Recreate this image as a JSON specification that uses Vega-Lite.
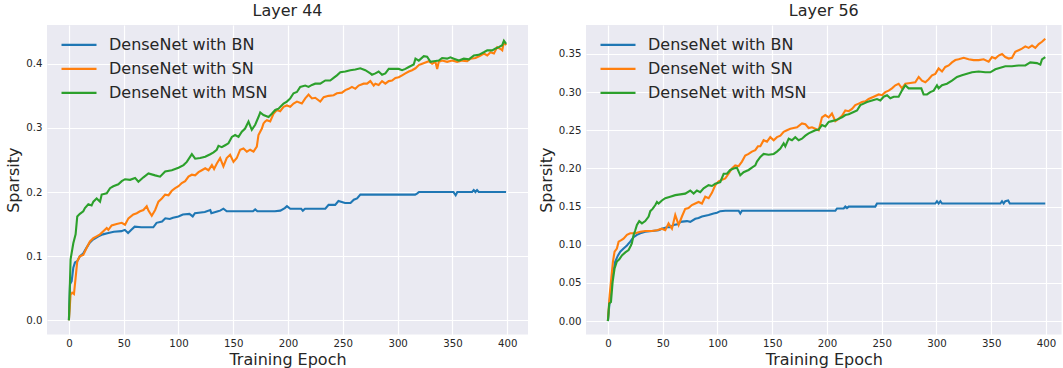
{
"$schema": "https://vega.github.io/schema/vega-lite/v6.json",
"background": "#FFFFFF",
"padding": {"left": 5, "top": 3, "right": 0, "bottom": 0},
"spacing": 10,
"config": {
 "font": "DejaVu Sans",
 "view": {"fill": "#EAEAF2", "stroke": null},
 "axis": {"domain": false, "ticks": false, "grid": true, "gridColor": "#FFFFFF", "gridWidth": 1.2, "labelFontSize": 10.2, "labelColor": "#262626", "titleFontSize": 16, "titleColor": "#262626", "titleFontWeight": "normal", "labelPadding": 5, "titlePadding": 4},
 "axisX": {"titlePadding": 2.5, "labelPadding": 4.5},
 "title": {"fontSize": 16, "fontWeight": "normal", "color": "#262626", "offset": 6},
 "legend": {"orient": "none", "legendX": 13, "legendY": 9, "padding": 0, "symbolType": "stroke", "symbolSize": 1225, "symbolStrokeWidth": 2.2, "labelFontSize": 16, "labelColor": "#262626", "labelOffset": 11, "clipHeight": 21.7, "rowPadding": 2, "labelLimit": 400, "title": null}
},
"resolve": {"legend": {"color": "independent"}, "scale": {"color": "independent", "x": "independent", "y": "independent"}},
"datasets": {
"l44": [
{"model":"DenseNet with BN","epoch":0,"sparsity":0},{"model":"DenseNet with BN","epoch":1,"sparsity":0.056},{"model":"DenseNet with BN","epoch":2.5,"sparsity":0.061},{"model":"DenseNet with BN","epoch":4,"sparsity":0.082},{"model":"DenseNet with BN","epoch":5.5,"sparsity":0.09},{"model":"DenseNet with BN","epoch":7.6,"sparsity":0.092},{"model":"DenseNet with BN","epoch":10,"sparsity":0.1},{"model":"DenseNet with BN","epoch":13,"sparsity":0.104},{"model":"DenseNet with BN","epoch":16,"sparsity":0.113},{"model":"DenseNet with BN","epoch":19,"sparsity":0.121},{"model":"DenseNet with BN","epoch":22,"sparsity":0.126},{"model":"DenseNet with BN","epoch":27,"sparsity":0.131},{"model":"DenseNet with BN","epoch":31,"sparsity":0.134},{"model":"DenseNet with BN","epoch":36,"sparsity":0.136},{"model":"DenseNet with BN","epoch":41,"sparsity":0.138},{"model":"DenseNet with BN","epoch":48,"sparsity":0.139},{"model":"DenseNet with BN","epoch":51,"sparsity":0.141},{"model":"DenseNet with BN","epoch":54,"sparsity":0.136},{"model":"DenseNet with BN","epoch":57,"sparsity":0.141},{"model":"DenseNet with BN","epoch":60,"sparsity":0.146},{"model":"DenseNet with BN","epoch":66,"sparsity":0.145},{"model":"DenseNet with BN","epoch":77,"sparsity":0.145},{"model":"DenseNet with BN","epoch":80,"sparsity":0.152},{"model":"DenseNet with BN","epoch":85,"sparsity":0.154},{"model":"DenseNet with BN","epoch":88,"sparsity":0.159},{"model":"DenseNet with BN","epoch":92,"sparsity":0.158},{"model":"DenseNet with BN","epoch":95,"sparsity":0.16},{"model":"DenseNet with BN","epoch":100,"sparsity":0.162},{"model":"DenseNet with BN","epoch":104,"sparsity":0.165},{"model":"DenseNet with BN","epoch":110,"sparsity":0.166},{"model":"DenseNet with BN","epoch":113,"sparsity":0.162},{"model":"DenseNet with BN","epoch":115,"sparsity":0.167},{"model":"DenseNet with BN","epoch":124,"sparsity":0.169},{"model":"DenseNet with BN","epoch":129,"sparsity":0.172},{"model":"DenseNet with BN","epoch":130,"sparsity":0.167},{"model":"DenseNet with BN","epoch":136,"sparsity":0.17},{"model":"DenseNet with BN","epoch":138,"sparsity":0.171},{"model":"DenseNet with BN","epoch":141,"sparsity":0.174},{"model":"DenseNet with BN","epoch":144,"sparsity":0.17},{"model":"DenseNet with BN","epoch":168,"sparsity":0.17},{"model":"DenseNet with BN","epoch":170,"sparsity":0.173},{"model":"DenseNet with BN","epoch":172,"sparsity":0.17},{"model":"DenseNet with BN","epoch":188,"sparsity":0.17},{"model":"DenseNet with BN","epoch":193,"sparsity":0.171},{"model":"DenseNet with BN","epoch":197,"sparsity":0.175},{"model":"DenseNet with BN","epoch":199,"sparsity":0.178},{"model":"DenseNet with BN","epoch":202,"sparsity":0.174},{"model":"DenseNet with BN","epoch":212,"sparsity":0.174},{"model":"DenseNet with BN","epoch":213.5,"sparsity":0.171},{"model":"DenseNet with BN","epoch":215.5,"sparsity":0.174},{"model":"DenseNet with BN","epoch":234,"sparsity":0.174},{"model":"DenseNet with BN","epoch":237,"sparsity":0.18},{"model":"DenseNet with BN","epoch":243,"sparsity":0.18},{"model":"DenseNet with BN","epoch":246,"sparsity":0.186},{"model":"DenseNet with BN","epoch":252,"sparsity":0.183},{"model":"DenseNet with BN","epoch":257,"sparsity":0.183},{"model":"DenseNet with BN","epoch":260,"sparsity":0.188},{"model":"DenseNet with BN","epoch":263,"sparsity":0.19},{"model":"DenseNet with BN","epoch":266,"sparsity":0.196},{"model":"DenseNet with BN","epoch":316,"sparsity":0.196},{"model":"DenseNet with BN","epoch":318,"sparsity":0.198},{"model":"DenseNet with BN","epoch":319.5,"sparsity":0.2},{"model":"DenseNet with BN","epoch":351,"sparsity":0.2},{"model":"DenseNet with BN","epoch":353,"sparsity":0.195},{"model":"DenseNet with BN","epoch":354.5,"sparsity":0.2},{"model":"DenseNet with BN","epoch":368,"sparsity":0.2},{"model":"DenseNet with BN","epoch":369.5,"sparsity":0.203},{"model":"DenseNet with BN","epoch":371,"sparsity":0.2},{"model":"DenseNet with BN","epoch":372.5,"sparsity":0.203},{"model":"DenseNet with BN","epoch":374,"sparsity":0.2},{"model":"DenseNet with BN","epoch":399,"sparsity":0.2},
{"model":"DenseNet with SN","epoch":0,"sparsity":0},{"model":"DenseNet with SN","epoch":1.5,"sparsity":0.04},{"model":"DenseNet with SN","epoch":3,"sparsity":0.043},{"model":"DenseNet with SN","epoch":4.6,"sparsity":0.041},{"model":"DenseNet with SN","epoch":6.1,"sparsity":0.066},{"model":"DenseNet with SN","epoch":7.6,"sparsity":0.092},{"model":"DenseNet with SN","epoch":10,"sparsity":0.1},{"model":"DenseNet with SN","epoch":13.1,"sparsity":0.102},{"model":"DenseNet with SN","epoch":16.2,"sparsity":0.113},{"model":"DenseNet with SN","epoch":19.2,"sparsity":0.123},{"model":"DenseNet with SN","epoch":22.3,"sparsity":0.128},{"model":"DenseNet with SN","epoch":25.3,"sparsity":0.131},{"model":"DenseNet with SN","epoch":28.4,"sparsity":0.134},{"model":"DenseNet with SN","epoch":31.4,"sparsity":0.139},{"model":"DenseNet with SN","epoch":34.5,"sparsity":0.144},{"model":"DenseNet with SN","epoch":36,"sparsity":0.141},{"model":"DenseNet with SN","epoch":39,"sparsity":0.148},{"model":"DenseNet with SN","epoch":43.6,"sparsity":0.15},{"model":"DenseNet with SN","epoch":48.2,"sparsity":0.152},{"model":"DenseNet with SN","epoch":51.2,"sparsity":0.149},{"model":"DenseNet with SN","epoch":54.3,"sparsity":0.159},{"model":"DenseNet with SN","epoch":58.8,"sparsity":0.165},{"model":"DenseNet with SN","epoch":61.9,"sparsity":0.167},{"model":"DenseNet with SN","epoch":64.9,"sparsity":0.17},{"model":"DenseNet with SN","epoch":68,"sparsity":0.172},{"model":"DenseNet with SN","epoch":71,"sparsity":0.178},{"model":"DenseNet with SN","epoch":72.6,"sparsity":0.171},{"model":"DenseNet with SN","epoch":75.6,"sparsity":0.163},{"model":"DenseNet with SN","epoch":78.7,"sparsity":0.172},{"model":"DenseNet with SN","epoch":81.7,"sparsity":0.185},{"model":"DenseNet with SN","epoch":84.8,"sparsity":0.19},{"model":"DenseNet with SN","epoch":87.8,"sparsity":0.196},{"model":"DenseNet with SN","epoch":90.9,"sparsity":0.195},{"model":"DenseNet with SN","epoch":93.9,"sparsity":0.202},{"model":"DenseNet with SN","epoch":97,"sparsity":0.206},{"model":"DenseNet with SN","epoch":100,"sparsity":0.209},{"model":"DenseNet with SN","epoch":103,"sparsity":0.214},{"model":"DenseNet with SN","epoch":106.1,"sparsity":0.217},{"model":"DenseNet with SN","epoch":109.1,"sparsity":0.224},{"model":"DenseNet with SN","epoch":112.2,"sparsity":0.227},{"model":"DenseNet with SN","epoch":115.2,"sparsity":0.226},{"model":"DenseNet with SN","epoch":118.3,"sparsity":0.231},{"model":"DenseNet with SN","epoch":121.3,"sparsity":0.234},{"model":"DenseNet with SN","epoch":124.4,"sparsity":0.237},{"model":"DenseNet with SN","epoch":127.4,"sparsity":0.234},{"model":"DenseNet with SN","epoch":130.5,"sparsity":0.242},{"model":"DenseNet with SN","epoch":132.5,"sparsity":0.236},{"model":"DenseNet with SN","epoch":134.9,"sparsity":0.244},{"model":"DenseNet with SN","epoch":138,"sparsity":0.253},{"model":"DenseNet with SN","epoch":141,"sparsity":0.24},{"model":"DenseNet with SN","epoch":144,"sparsity":0.253},{"model":"DenseNet with SN","epoch":147.1,"sparsity":0.258},{"model":"DenseNet with SN","epoch":150.2,"sparsity":0.247},{"model":"DenseNet with SN","epoch":153.2,"sparsity":0.253},{"model":"DenseNet with SN","epoch":156.3,"sparsity":0.266},{"model":"DenseNet with SN","epoch":159.3,"sparsity":0.268},{"model":"DenseNet with SN","epoch":162.4,"sparsity":0.263},{"model":"DenseNet with SN","epoch":165.4,"sparsity":0.266},{"model":"DenseNet with SN","epoch":168.5,"sparsity":0.263},{"model":"DenseNet with SN","epoch":171.5,"sparsity":0.271},{"model":"DenseNet with SN","epoch":173,"sparsity":0.289},{"model":"DenseNet with SN","epoch":176.1,"sparsity":0.299},{"model":"DenseNet with SN","epoch":177.6,"sparsity":0.307},{"model":"DenseNet with SN","epoch":179.1,"sparsity":0.31},{"model":"DenseNet with SN","epoch":180.7,"sparsity":0.312},{"model":"DenseNet with SN","epoch":183.7,"sparsity":0.31},{"model":"DenseNet with SN","epoch":186.7,"sparsity":0.322},{"model":"DenseNet with SN","epoch":189.8,"sparsity":0.328},{"model":"DenseNet with SN","epoch":192.8,"sparsity":0.326},{"model":"DenseNet with SN","epoch":195.9,"sparsity":0.333},{"model":"DenseNet with SN","epoch":198.9,"sparsity":0.335},{"model":"DenseNet with SN","epoch":202,"sparsity":0.333},{"model":"DenseNet with SN","epoch":205,"sparsity":0.338},{"model":"DenseNet with SN","epoch":208.1,"sparsity":0.341},{"model":"DenseNet with SN","epoch":212.6,"sparsity":0.338},{"model":"DenseNet with SN","epoch":215.7,"sparsity":0.346},{"model":"DenseNet with SN","epoch":218.7,"sparsity":0.352},{"model":"DenseNet with SN","epoch":221.8,"sparsity":0.346},{"model":"DenseNet with SN","epoch":224.8,"sparsity":0.347},{"model":"DenseNet with SN","epoch":229.4,"sparsity":0.341},{"model":"DenseNet with SN","epoch":232.5,"sparsity":0.348},{"model":"DenseNet with SN","epoch":237,"sparsity":0.35},{"model":"DenseNet with SN","epoch":241.6,"sparsity":0.351},{"model":"DenseNet with SN","epoch":244.6,"sparsity":0.354},{"model":"DenseNet with SN","epoch":249.2,"sparsity":0.355},{"model":"DenseNet with SN","epoch":252.3,"sparsity":0.359},{"model":"DenseNet with SN","epoch":255.3,"sparsity":0.361},{"model":"DenseNet with SN","epoch":258.3,"sparsity":0.364},{"model":"DenseNet with SN","epoch":261.4,"sparsity":0.361},{"model":"DenseNet with SN","epoch":264.4,"sparsity":0.366},{"model":"DenseNet with SN","epoch":269,"sparsity":0.369},{"model":"DenseNet with SN","epoch":272.1,"sparsity":0.369},{"model":"DenseNet with SN","epoch":275.1,"sparsity":0.373},{"model":"DenseNet with SN","epoch":278.2,"sparsity":0.366},{"model":"DenseNet with SN","epoch":279.7,"sparsity":0.369},{"model":"DenseNet with SN","epoch":282.7,"sparsity":0.367},{"model":"DenseNet with SN","epoch":285.8,"sparsity":0.373},{"model":"DenseNet with SN","epoch":288.8,"sparsity":0.369},{"model":"DenseNet with SN","epoch":291.9,"sparsity":0.373},{"model":"DenseNet with SN","epoch":294.9,"sparsity":0.374},{"model":"DenseNet with SN","epoch":298,"sparsity":0.378},{"model":"DenseNet with SN","epoch":301,"sparsity":0.379},{"model":"DenseNet with SN","epoch":304.1,"sparsity":0.382},{"model":"DenseNet with SN","epoch":307.1,"sparsity":0.385},{"model":"DenseNet with SN","epoch":310.2,"sparsity":0.388},{"model":"DenseNet with SN","epoch":313.2,"sparsity":0.39},{"model":"DenseNet with SN","epoch":316.3,"sparsity":0.393},{"model":"DenseNet with SN","epoch":319.3,"sparsity":0.398},{"model":"DenseNet with SN","epoch":322.4,"sparsity":0.4},{"model":"DenseNet with SN","epoch":325.4,"sparsity":0.402},{"model":"DenseNet with SN","epoch":328.4,"sparsity":0.404},{"model":"DenseNet with SN","epoch":331.5,"sparsity":0.4},{"model":"DenseNet with SN","epoch":334.5,"sparsity":0.403},{"model":"DenseNet with SN","epoch":336.1,"sparsity":0.392},{"model":"DenseNet with SN","epoch":337.6,"sparsity":0.403},{"model":"DenseNet with SN","epoch":340.6,"sparsity":0.405},{"model":"DenseNet with SN","epoch":345.2,"sparsity":0.403},{"model":"DenseNet with SN","epoch":349.8,"sparsity":0.405},{"model":"DenseNet with SN","epoch":354.3,"sparsity":0.403},{"model":"DenseNet with SN","epoch":358.9,"sparsity":0.405},{"model":"DenseNet with SN","epoch":363.5,"sparsity":0.404},{"model":"DenseNet with SN","epoch":366.5,"sparsity":0.408},{"model":"DenseNet with SN","epoch":371.1,"sparsity":0.409},{"model":"DenseNet with SN","epoch":375.7,"sparsity":0.413},{"model":"DenseNet with SN","epoch":378.7,"sparsity":0.416},{"model":"DenseNet with SN","epoch":381.8,"sparsity":0.413},{"model":"DenseNet with SN","epoch":384.8,"sparsity":0.418},{"model":"DenseNet with SN","epoch":387.9,"sparsity":0.416},{"model":"DenseNet with SN","epoch":390.9,"sparsity":0.426},{"model":"DenseNet with SN","epoch":394,"sparsity":0.423},{"model":"DenseNet with SN","epoch":395.5,"sparsity":0.421},{"model":"DenseNet with SN","epoch":397,"sparsity":0.434},{"model":"DenseNet with SN","epoch":399,"sparsity":0.429},
{"model":"DenseNet with MSN","epoch":0,"sparsity":0},{"model":"DenseNet with MSN","epoch":1.5,"sparsity":0.095},{"model":"DenseNet with MSN","epoch":4,"sparsity":0.12},{"model":"DenseNet with MSN","epoch":6.1,"sparsity":0.134},{"model":"DenseNet with MSN","epoch":7.6,"sparsity":0.162},{"model":"DenseNet with MSN","epoch":10,"sparsity":0.166},{"model":"DenseNet with MSN","epoch":13.1,"sparsity":0.17},{"model":"DenseNet with MSN","epoch":14.6,"sparsity":0.175},{"model":"DenseNet with MSN","epoch":17.7,"sparsity":0.181},{"model":"DenseNet with MSN","epoch":20.7,"sparsity":0.179},{"model":"DenseNet with MSN","epoch":22.3,"sparsity":0.185},{"model":"DenseNet with MSN","epoch":25.3,"sparsity":0.19},{"model":"DenseNet with MSN","epoch":28.4,"sparsity":0.185},{"model":"DenseNet with MSN","epoch":29.9,"sparsity":0.196},{"model":"DenseNet with MSN","epoch":34.5,"sparsity":0.198},{"model":"DenseNet with MSN","epoch":37.5,"sparsity":0.206},{"model":"DenseNet with MSN","epoch":40.5,"sparsity":0.209},{"model":"DenseNet with MSN","epoch":45.1,"sparsity":0.212},{"model":"DenseNet with MSN","epoch":48.2,"sparsity":0.217},{"model":"DenseNet with MSN","epoch":51.2,"sparsity":0.22},{"model":"DenseNet with MSN","epoch":55.8,"sparsity":0.219},{"model":"DenseNet with MSN","epoch":60.4,"sparsity":0.222},{"model":"DenseNet with MSN","epoch":63.4,"sparsity":0.216},{"model":"DenseNet with MSN","epoch":68,"sparsity":0.223},{"model":"DenseNet with MSN","epoch":72.6,"sparsity":0.229},{"model":"DenseNet with MSN","epoch":78.7,"sparsity":0.226},{"model":"DenseNet with MSN","epoch":83.2,"sparsity":0.224},{"model":"DenseNet with MSN","epoch":87.8,"sparsity":0.232},{"model":"DenseNet with MSN","epoch":93.9,"sparsity":0.234},{"model":"DenseNet with MSN","epoch":100,"sparsity":0.238},{"model":"DenseNet with MSN","epoch":104.6,"sparsity":0.242},{"model":"DenseNet with MSN","epoch":107.6,"sparsity":0.247},{"model":"DenseNet with MSN","epoch":112.2,"sparsity":0.259},{"model":"DenseNet with MSN","epoch":115.2,"sparsity":0.252},{"model":"DenseNet with MSN","epoch":119.8,"sparsity":0.253},{"model":"DenseNet with MSN","epoch":124.4,"sparsity":0.255},{"model":"DenseNet with MSN","epoch":129,"sparsity":0.259},{"model":"DenseNet with MSN","epoch":132,"sparsity":0.262},{"model":"DenseNet with MSN","epoch":134.9,"sparsity":0.266},{"model":"DenseNet with MSN","epoch":136.5,"sparsity":0.272},{"model":"DenseNet with MSN","epoch":139.5,"sparsity":0.27},{"model":"DenseNet with MSN","epoch":142.6,"sparsity":0.273},{"model":"DenseNet with MSN","epoch":145.6,"sparsity":0.276},{"model":"DenseNet with MSN","epoch":148.7,"sparsity":0.286},{"model":"DenseNet with MSN","epoch":151.7,"sparsity":0.289},{"model":"DenseNet with MSN","epoch":154.8,"sparsity":0.286},{"model":"DenseNet with MSN","epoch":157.8,"sparsity":0.294},{"model":"DenseNet with MSN","epoch":160.8,"sparsity":0.299},{"model":"DenseNet with MSN","epoch":163.9,"sparsity":0.31},{"model":"DenseNet with MSN","epoch":166.9,"sparsity":0.297},{"model":"DenseNet with MSN","epoch":170,"sparsity":0.305},{"model":"DenseNet with MSN","epoch":173,"sparsity":0.317},{"model":"DenseNet with MSN","epoch":174.6,"sparsity":0.324},{"model":"DenseNet with MSN","epoch":177.6,"sparsity":0.32},{"model":"DenseNet with MSN","epoch":182.2,"sparsity":0.317},{"model":"DenseNet with MSN","epoch":185.2,"sparsity":0.322},{"model":"DenseNet with MSN","epoch":188.3,"sparsity":0.328},{"model":"DenseNet with MSN","epoch":191.3,"sparsity":0.33},{"model":"DenseNet with MSN","epoch":195.9,"sparsity":0.338},{"model":"DenseNet with MSN","epoch":198.9,"sparsity":0.341},{"model":"DenseNet with MSN","epoch":202,"sparsity":0.346},{"model":"DenseNet with MSN","epoch":205,"sparsity":0.354},{"model":"DenseNet with MSN","epoch":208.1,"sparsity":0.356},{"model":"DenseNet with MSN","epoch":211.1,"sparsity":0.364},{"model":"DenseNet with MSN","epoch":215.7,"sparsity":0.366},{"model":"DenseNet with MSN","epoch":218.7,"sparsity":0.364},{"model":"DenseNet with MSN","epoch":221.8,"sparsity":0.367},{"model":"DenseNet with MSN","epoch":224.8,"sparsity":0.369},{"model":"DenseNet with MSN","epoch":229.4,"sparsity":0.369},{"model":"DenseNet with MSN","epoch":234,"sparsity":0.374},{"model":"DenseNet with MSN","epoch":238.5,"sparsity":0.374},{"model":"DenseNet with MSN","epoch":241.6,"sparsity":0.378},{"model":"DenseNet with MSN","epoch":244.6,"sparsity":0.382},{"model":"DenseNet with MSN","epoch":247.7,"sparsity":0.387},{"model":"DenseNet with MSN","epoch":252.3,"sparsity":0.388},{"model":"DenseNet with MSN","epoch":256.8,"sparsity":0.39},{"model":"DenseNet with MSN","epoch":261.4,"sparsity":0.391},{"model":"DenseNet with MSN","epoch":266,"sparsity":0.393},{"model":"DenseNet with MSN","epoch":270.5,"sparsity":0.39},{"model":"DenseNet with MSN","epoch":275.1,"sparsity":0.385},{"model":"DenseNet with MSN","epoch":276.6,"sparsity":0.383},{"model":"DenseNet with MSN","epoch":279.7,"sparsity":0.385},{"model":"DenseNet with MSN","epoch":282.7,"sparsity":0.388},{"model":"DenseNet with MSN","epoch":285.8,"sparsity":0.383},{"model":"DenseNet with MSN","epoch":288.8,"sparsity":0.385},{"model":"DenseNet with MSN","epoch":291.9,"sparsity":0.392},{"model":"DenseNet with MSN","epoch":294.9,"sparsity":0.392},{"model":"DenseNet with MSN","epoch":301,"sparsity":0.392},{"model":"DenseNet with MSN","epoch":304.1,"sparsity":0.39},{"model":"DenseNet with MSN","epoch":307.1,"sparsity":0.392},{"model":"DenseNet with MSN","epoch":310.2,"sparsity":0.395},{"model":"DenseNet with MSN","epoch":314.7,"sparsity":0.399},{"model":"DenseNet with MSN","epoch":316.3,"sparsity":0.408},{"model":"DenseNet with MSN","epoch":319.3,"sparsity":0.405},{"model":"DenseNet with MSN","epoch":323.9,"sparsity":0.412},{"model":"DenseNet with MSN","epoch":326.9,"sparsity":0.411},{"model":"DenseNet with MSN","epoch":330,"sparsity":0.403},{"model":"DenseNet with MSN","epoch":333,"sparsity":0.404},{"model":"DenseNet with MSN","epoch":337.6,"sparsity":0.405},{"model":"DenseNet with MSN","epoch":340.6,"sparsity":0.409},{"model":"DenseNet with MSN","epoch":345.2,"sparsity":0.408},{"model":"DenseNet with MSN","epoch":348.2,"sparsity":0.41},{"model":"DenseNet with MSN","epoch":351.3,"sparsity":0.408},{"model":"DenseNet with MSN","epoch":355.9,"sparsity":0.405},{"model":"DenseNet with MSN","epoch":360.4,"sparsity":0.408},{"model":"DenseNet with MSN","epoch":365,"sparsity":0.407},{"model":"DenseNet with MSN","epoch":369.6,"sparsity":0.413},{"model":"DenseNet with MSN","epoch":374.1,"sparsity":0.414},{"model":"DenseNet with MSN","epoch":378.7,"sparsity":0.418},{"model":"DenseNet with MSN","epoch":381.8,"sparsity":0.421},{"model":"DenseNet with MSN","epoch":386.3,"sparsity":0.421},{"model":"DenseNet with MSN","epoch":389.4,"sparsity":0.424},{"model":"DenseNet with MSN","epoch":392.4,"sparsity":0.426},{"model":"DenseNet with MSN","epoch":395.5,"sparsity":0.429},{"model":"DenseNet with MSN","epoch":397,"sparsity":0.436},{"model":"DenseNet with MSN","epoch":399,"sparsity":0.431}
],
"l56": [
{"model":"DenseNet with BN","epoch":0,"sparsity":0},{"model":"DenseNet with BN","epoch":2.1,"sparsity":0.034},{"model":"DenseNet with BN","epoch":4.3,"sparsity":0.06},{"model":"DenseNet with BN","epoch":6.7,"sparsity":0.078},{"model":"DenseNet with BN","epoch":9.2,"sparsity":0.086},{"model":"DenseNet with BN","epoch":11.3,"sparsity":0.091},{"model":"DenseNet with BN","epoch":14.3,"sparsity":0.095},{"model":"DenseNet with BN","epoch":17.4,"sparsity":0.099},{"model":"DenseNet with BN","epoch":20.4,"sparsity":0.104},{"model":"DenseNet with BN","epoch":23.5,"sparsity":0.11},{"model":"DenseNet with BN","epoch":26.5,"sparsity":0.113},{"model":"DenseNet with BN","epoch":29.6,"sparsity":0.115},{"model":"DenseNet with BN","epoch":34.1,"sparsity":0.117},{"model":"DenseNet with BN","epoch":40.2,"sparsity":0.118},{"model":"DenseNet with BN","epoch":46.3,"sparsity":0.119},{"model":"DenseNet with BN","epoch":49.3,"sparsity":0.121},{"model":"DenseNet with BN","epoch":53.9,"sparsity":0.123},{"model":"DenseNet with BN","epoch":57,"sparsity":0.123},{"model":"DenseNet with BN","epoch":60,"sparsity":0.126},{"model":"DenseNet with BN","epoch":64.6,"sparsity":0.127},{"model":"DenseNet with BN","epoch":66.1,"sparsity":0.13},{"model":"DenseNet with BN","epoch":72.2,"sparsity":0.131},{"model":"DenseNet with BN","epoch":75.2,"sparsity":0.13},{"model":"DenseNet with BN","epoch":79.8,"sparsity":0.134},{"model":"DenseNet with BN","epoch":82.8,"sparsity":0.135},{"model":"DenseNet with BN","epoch":85.9,"sparsity":0.137},{"model":"DenseNet with BN","epoch":92,"sparsity":0.139},{"model":"DenseNet with BN","epoch":96.5,"sparsity":0.141},{"model":"DenseNet with BN","epoch":99.6,"sparsity":0.142},{"model":"DenseNet with BN","epoch":102.6,"sparsity":0.144},{"model":"DenseNet with BN","epoch":107.2,"sparsity":0.1445},{"model":"DenseNet with BN","epoch":119.4,"sparsity":0.1445},{"model":"DenseNet with BN","epoch":120.9,"sparsity":0.141},{"model":"DenseNet with BN","epoch":122.4,"sparsity":0.1445},{"model":"DenseNet with BN","epoch":207.7,"sparsity":0.1445},{"model":"DenseNet with BN","epoch":209.2,"sparsity":0.1475},{"model":"DenseNet with BN","epoch":215.3,"sparsity":0.1475},{"model":"DenseNet with BN","epoch":216.8,"sparsity":0.15},{"model":"DenseNet with BN","epoch":218.3,"sparsity":0.148},{"model":"DenseNet with BN","epoch":219.9,"sparsity":0.15},{"model":"DenseNet with BN","epoch":244.2,"sparsity":0.15},{"model":"DenseNet with BN","epoch":245.7,"sparsity":0.154},{"model":"DenseNet with BN","epoch":299,"sparsity":0.154},{"model":"DenseNet with BN","epoch":300.5,"sparsity":0.157},{"model":"DenseNet with BN","epoch":302,"sparsity":0.154},{"model":"DenseNet with BN","epoch":303.6,"sparsity":0.157},{"model":"DenseNet with BN","epoch":305.1,"sparsity":0.154},{"model":"DenseNet with BN","epoch":358.4,"sparsity":0.154},{"model":"DenseNet with BN","epoch":359.9,"sparsity":0.157},{"model":"DenseNet with BN","epoch":361.4,"sparsity":0.154},{"model":"DenseNet with BN","epoch":362.9,"sparsity":0.157},{"model":"DenseNet with BN","epoch":365.5,"sparsity":0.158},{"model":"DenseNet with BN","epoch":367,"sparsity":0.154},{"model":"DenseNet with BN","epoch":399.4,"sparsity":0.154},
{"model":"DenseNet with SN","epoch":0,"sparsity":0},{"model":"DenseNet with SN","epoch":1.6,"sparsity":0.034},{"model":"DenseNet with SN","epoch":3.1,"sparsity":0.056},{"model":"DenseNet with SN","epoch":4.6,"sparsity":0.078},{"model":"DenseNet with SN","epoch":6.1,"sparsity":0.091},{"model":"DenseNet with SN","epoch":8.2,"sparsity":0.095},{"model":"DenseNet with SN","epoch":9.8,"sparsity":0.104},{"model":"DenseNet with SN","epoch":12.2,"sparsity":0.106},{"model":"DenseNet with SN","epoch":14.3,"sparsity":0.108},{"model":"DenseNet with SN","epoch":17.4,"sparsity":0.113},{"model":"DenseNet with SN","epoch":20.4,"sparsity":0.115},{"model":"DenseNet with SN","epoch":25,"sparsity":0.115},{"model":"DenseNet with SN","epoch":29.6,"sparsity":0.117},{"model":"DenseNet with SN","epoch":34.1,"sparsity":0.118},{"model":"DenseNet with SN","epoch":40.2,"sparsity":0.118},{"model":"DenseNet with SN","epoch":44.8,"sparsity":0.119},{"model":"DenseNet with SN","epoch":49.3,"sparsity":0.121},{"model":"DenseNet with SN","epoch":52.4,"sparsity":0.119},{"model":"DenseNet with SN","epoch":55.4,"sparsity":0.128},{"model":"DenseNet with SN","epoch":58.5,"sparsity":0.121},{"model":"DenseNet with SN","epoch":61.5,"sparsity":0.139},{"model":"DenseNet with SN","epoch":64.6,"sparsity":0.126},{"model":"DenseNet with SN","epoch":67.6,"sparsity":0.137},{"model":"DenseNet with SN","epoch":70.6,"sparsity":0.147},{"model":"DenseNet with SN","epoch":73.6,"sparsity":0.148},{"model":"DenseNet with SN","epoch":76.7,"sparsity":0.152},{"model":"DenseNet with SN","epoch":79.8,"sparsity":0.154},{"model":"DenseNet with SN","epoch":82.8,"sparsity":0.156},{"model":"DenseNet with SN","epoch":85.9,"sparsity":0.154},{"model":"DenseNet with SN","epoch":88.9,"sparsity":0.163},{"model":"DenseNet with SN","epoch":92,"sparsity":0.161},{"model":"DenseNet with SN","epoch":95,"sparsity":0.168},{"model":"DenseNet with SN","epoch":98,"sparsity":0.178},{"model":"DenseNet with SN","epoch":101.1,"sparsity":0.183},{"model":"DenseNet with SN","epoch":104.1,"sparsity":0.185},{"model":"DenseNet with SN","epoch":107.2,"sparsity":0.187},{"model":"DenseNet with SN","epoch":110.2,"sparsity":0.193},{"model":"DenseNet with SN","epoch":113.3,"sparsity":0.2},{"model":"DenseNet with SN","epoch":116.3,"sparsity":0.204},{"model":"DenseNet with SN","epoch":119.4,"sparsity":0.203},{"model":"DenseNet with SN","epoch":122.4,"sparsity":0.209},{"model":"DenseNet with SN","epoch":125.4,"sparsity":0.217},{"model":"DenseNet with SN","epoch":128.5,"sparsity":0.219},{"model":"DenseNet with SN","epoch":131.5,"sparsity":0.222},{"model":"DenseNet with SN","epoch":134.6,"sparsity":0.224},{"model":"DenseNet with SN","epoch":137,"sparsity":0.229},{"model":"DenseNet with SN","epoch":139.2,"sparsity":0.229},{"model":"DenseNet with SN","epoch":142.2,"sparsity":0.237},{"model":"DenseNet with SN","epoch":145.3,"sparsity":0.235},{"model":"DenseNet with SN","epoch":148.3,"sparsity":0.241},{"model":"DenseNet with SN","epoch":151.4,"sparsity":0.237},{"model":"DenseNet with SN","epoch":154.4,"sparsity":0.241},{"model":"DenseNet with SN","epoch":157.5,"sparsity":0.243},{"model":"DenseNet with SN","epoch":160.5,"sparsity":0.248},{"model":"DenseNet with SN","epoch":163.5,"sparsity":0.25},{"model":"DenseNet with SN","epoch":166.6,"sparsity":0.252},{"model":"DenseNet with SN","epoch":169.6,"sparsity":0.253},{"model":"DenseNet with SN","epoch":172.7,"sparsity":0.254},{"model":"DenseNet with SN","epoch":177.2,"sparsity":0.259},{"model":"DenseNet with SN","epoch":180.3,"sparsity":0.258},{"model":"DenseNet with SN","epoch":183.3,"sparsity":0.253},{"model":"DenseNet with SN","epoch":186.4,"sparsity":0.254},{"model":"DenseNet with SN","epoch":189.4,"sparsity":0.252},{"model":"DenseNet with SN","epoch":192.5,"sparsity":0.25},{"model":"DenseNet with SN","epoch":195.5,"sparsity":0.267},{"model":"DenseNet with SN","epoch":198.5,"sparsity":0.27},{"model":"DenseNet with SN","epoch":201.6,"sparsity":0.267},{"model":"DenseNet with SN","epoch":204.6,"sparsity":0.272},{"model":"DenseNet with SN","epoch":207.7,"sparsity":0.262},{"model":"DenseNet with SN","epoch":210.7,"sparsity":0.265},{"model":"DenseNet with SN","epoch":213.8,"sparsity":0.269},{"model":"DenseNet with SN","epoch":216.8,"sparsity":0.276},{"model":"DenseNet with SN","epoch":219.9,"sparsity":0.275},{"model":"DenseNet with SN","epoch":222.9,"sparsity":0.278},{"model":"DenseNet with SN","epoch":225.9,"sparsity":0.283},{"model":"DenseNet with SN","epoch":229,"sparsity":0.285},{"model":"DenseNet with SN","epoch":232,"sparsity":0.287},{"model":"DenseNet with SN","epoch":235.1,"sparsity":0.288},{"model":"DenseNet with SN","epoch":238.1,"sparsity":0.291},{"model":"DenseNet with SN","epoch":242.7,"sparsity":0.294},{"model":"DenseNet with SN","epoch":247.3,"sparsity":0.297},{"model":"DenseNet with SN","epoch":250.3,"sparsity":0.296},{"model":"DenseNet with SN","epoch":253.3,"sparsity":0.3},{"model":"DenseNet with SN","epoch":256.4,"sparsity":0.302},{"model":"DenseNet with SN","epoch":259.4,"sparsity":0.305},{"model":"DenseNet with SN","epoch":262.5,"sparsity":0.309},{"model":"DenseNet with SN","epoch":265.5,"sparsity":0.311},{"model":"DenseNet with SN","epoch":268.5,"sparsity":0.305},{"model":"DenseNet with SN","epoch":271.6,"sparsity":0.311},{"model":"DenseNet with SN","epoch":276.2,"sparsity":0.312},{"model":"DenseNet with SN","epoch":280.7,"sparsity":0.313},{"model":"DenseNet with SN","epoch":283.8,"sparsity":0.32},{"model":"DenseNet with SN","epoch":286.8,"sparsity":0.315},{"model":"DenseNet with SN","epoch":289.9,"sparsity":0.313},{"model":"DenseNet with SN","epoch":292.9,"sparsity":0.317},{"model":"DenseNet with SN","epoch":296,"sparsity":0.322},{"model":"DenseNet with SN","epoch":299,"sparsity":0.324},{"model":"DenseNet with SN","epoch":302,"sparsity":0.331},{"model":"DenseNet with SN","epoch":305.1,"sparsity":0.327},{"model":"DenseNet with SN","epoch":308.1,"sparsity":0.333},{"model":"DenseNet with SN","epoch":311.2,"sparsity":0.335},{"model":"DenseNet with SN","epoch":314.2,"sparsity":0.339},{"model":"DenseNet with SN","epoch":317.3,"sparsity":0.342},{"model":"DenseNet with SN","epoch":320.3,"sparsity":0.343},{"model":"DenseNet with SN","epoch":324.9,"sparsity":0.345},{"model":"DenseNet with SN","epoch":329.4,"sparsity":0.343},{"model":"DenseNet with SN","epoch":334,"sparsity":0.342},{"model":"DenseNet with SN","epoch":338.6,"sparsity":0.342},{"model":"DenseNet with SN","epoch":343.1,"sparsity":0.343},{"model":"DenseNet with SN","epoch":347.7,"sparsity":0.34},{"model":"DenseNet with SN","epoch":350.7,"sparsity":0.346},{"model":"DenseNet with SN","epoch":353.8,"sparsity":0.344},{"model":"DenseNet with SN","epoch":356.8,"sparsity":0.348},{"model":"DenseNet with SN","epoch":359.9,"sparsity":0.35},{"model":"DenseNet with SN","epoch":362.9,"sparsity":0.346},{"model":"DenseNet with SN","epoch":366,"sparsity":0.344},{"model":"DenseNet with SN","epoch":369,"sparsity":0.345},{"model":"DenseNet with SN","epoch":372,"sparsity":0.353},{"model":"DenseNet with SN","epoch":375.1,"sparsity":0.355},{"model":"DenseNet with SN","epoch":378.1,"sparsity":0.357},{"model":"DenseNet with SN","epoch":381.2,"sparsity":0.36},{"model":"DenseNet with SN","epoch":384.2,"sparsity":0.358},{"model":"DenseNet with SN","epoch":387.3,"sparsity":0.361},{"model":"DenseNet with SN","epoch":390.3,"sparsity":0.358},{"model":"DenseNet with SN","epoch":393.4,"sparsity":0.363},{"model":"DenseNet with SN","epoch":396.4,"sparsity":0.366},{"model":"DenseNet with SN","epoch":399.4,"sparsity":0.37},
{"model":"DenseNet with MSN","epoch":0,"sparsity":0},{"model":"DenseNet with MSN","epoch":1.2,"sparsity":0.023},{"model":"DenseNet with MSN","epoch":2.8,"sparsity":0.025},{"model":"DenseNet with MSN","epoch":4.3,"sparsity":0.051},{"model":"DenseNet with MSN","epoch":6.1,"sparsity":0.069},{"model":"DenseNet with MSN","epoch":8.2,"sparsity":0.078},{"model":"DenseNet with MSN","epoch":10.4,"sparsity":0.081},{"model":"DenseNet with MSN","epoch":12.8,"sparsity":0.086},{"model":"DenseNet with MSN","epoch":15.9,"sparsity":0.09},{"model":"DenseNet with MSN","epoch":18.9,"sparsity":0.093},{"model":"DenseNet with MSN","epoch":21,"sparsity":0.099},{"model":"DenseNet with MSN","epoch":21.9,"sparsity":0.102},{"model":"DenseNet with MSN","epoch":23.5,"sparsity":0.113},{"model":"DenseNet with MSN","epoch":25,"sparsity":0.119},{"model":"DenseNet with MSN","epoch":26.5,"sparsity":0.126},{"model":"DenseNet with MSN","epoch":28.6,"sparsity":0.131},{"model":"DenseNet with MSN","epoch":31.1,"sparsity":0.128},{"model":"DenseNet with MSN","epoch":34.1,"sparsity":0.131},{"model":"DenseNet with MSN","epoch":37.2,"sparsity":0.137},{"model":"DenseNet with MSN","epoch":38.7,"sparsity":0.144},{"model":"DenseNet with MSN","epoch":40.8,"sparsity":0.147},{"model":"DenseNet with MSN","epoch":43.3,"sparsity":0.152},{"model":"DenseNet with MSN","epoch":44.8,"sparsity":0.156},{"model":"DenseNet with MSN","epoch":46.3,"sparsity":0.154},{"model":"DenseNet with MSN","epoch":49.3,"sparsity":0.158},{"model":"DenseNet with MSN","epoch":52.4,"sparsity":0.161},{"model":"DenseNet with MSN","epoch":56.9,"sparsity":0.163},{"model":"DenseNet with MSN","epoch":61.5,"sparsity":0.165},{"model":"DenseNet with MSN","epoch":66.1,"sparsity":0.166},{"model":"DenseNet with MSN","epoch":70.6,"sparsity":0.167},{"model":"DenseNet with MSN","epoch":75.2,"sparsity":0.171},{"model":"DenseNet with MSN","epoch":78.3,"sparsity":0.167},{"model":"DenseNet with MSN","epoch":81.3,"sparsity":0.171},{"model":"DenseNet with MSN","epoch":84.3,"sparsity":0.169},{"model":"DenseNet with MSN","epoch":87.4,"sparsity":0.174},{"model":"DenseNet with MSN","epoch":91.9,"sparsity":0.178},{"model":"DenseNet with MSN","epoch":95,"sparsity":0.177},{"model":"DenseNet with MSN","epoch":98,"sparsity":0.18},{"model":"DenseNet with MSN","epoch":102.6,"sparsity":0.182},{"model":"DenseNet with MSN","epoch":105.7,"sparsity":0.193},{"model":"DenseNet with MSN","epoch":108.7,"sparsity":0.193},{"model":"DenseNet with MSN","epoch":111.7,"sparsity":0.198},{"model":"DenseNet with MSN","epoch":114.8,"sparsity":0.2},{"model":"DenseNet with MSN","epoch":117.8,"sparsity":0.201},{"model":"DenseNet with MSN","epoch":120.9,"sparsity":0.191},{"model":"DenseNet with MSN","epoch":123.9,"sparsity":0.195},{"model":"DenseNet with MSN","epoch":128.5,"sparsity":0.198},{"model":"DenseNet with MSN","epoch":131.5,"sparsity":0.201},{"model":"DenseNet with MSN","epoch":134.6,"sparsity":0.204},{"model":"DenseNet with MSN","epoch":136.1,"sparsity":0.209},{"model":"DenseNet with MSN","epoch":139.2,"sparsity":0.215},{"model":"DenseNet with MSN","epoch":142.2,"sparsity":0.219},{"model":"DenseNet with MSN","epoch":146.8,"sparsity":0.218},{"model":"DenseNet with MSN","epoch":151.4,"sparsity":0.219},{"model":"DenseNet with MSN","epoch":154.4,"sparsity":0.222},{"model":"DenseNet with MSN","epoch":157.5,"sparsity":0.226},{"model":"DenseNet with MSN","epoch":160.5,"sparsity":0.233},{"model":"DenseNet with MSN","epoch":162,"sparsity":0.229},{"model":"DenseNet with MSN","epoch":165.1,"sparsity":0.239},{"model":"DenseNet with MSN","epoch":168.1,"sparsity":0.237},{"model":"DenseNet with MSN","epoch":171.1,"sparsity":0.241},{"model":"DenseNet with MSN","epoch":174.2,"sparsity":0.237},{"model":"DenseNet with MSN","epoch":177.2,"sparsity":0.239},{"model":"DenseNet with MSN","epoch":180.3,"sparsity":0.243},{"model":"DenseNet with MSN","epoch":183.3,"sparsity":0.246},{"model":"DenseNet with MSN","epoch":186.4,"sparsity":0.248},{"model":"DenseNet with MSN","epoch":189.4,"sparsity":0.25},{"model":"DenseNet with MSN","epoch":192.5,"sparsity":0.251},{"model":"DenseNet with MSN","epoch":195.5,"sparsity":0.257},{"model":"DenseNet with MSN","epoch":198.5,"sparsity":0.255},{"model":"DenseNet with MSN","epoch":201.6,"sparsity":0.261},{"model":"DenseNet with MSN","epoch":204.6,"sparsity":0.262},{"model":"DenseNet with MSN","epoch":207.7,"sparsity":0.263},{"model":"DenseNet with MSN","epoch":210.7,"sparsity":0.265},{"model":"DenseNet with MSN","epoch":213.8,"sparsity":0.267},{"model":"DenseNet with MSN","epoch":216.8,"sparsity":0.27},{"model":"DenseNet with MSN","epoch":219.9,"sparsity":0.271},{"model":"DenseNet with MSN","epoch":224.4,"sparsity":0.274},{"model":"DenseNet with MSN","epoch":227.5,"sparsity":0.276},{"model":"DenseNet with MSN","epoch":230.5,"sparsity":0.283},{"model":"DenseNet with MSN","epoch":233.6,"sparsity":0.285},{"model":"DenseNet with MSN","epoch":236.6,"sparsity":0.287},{"model":"DenseNet with MSN","epoch":241.2,"sparsity":0.289},{"model":"DenseNet with MSN","epoch":245.7,"sparsity":0.291},{"model":"DenseNet with MSN","epoch":248.8,"sparsity":0.289},{"model":"DenseNet with MSN","epoch":251.8,"sparsity":0.294},{"model":"DenseNet with MSN","epoch":254.9,"sparsity":0.296},{"model":"DenseNet with MSN","epoch":257.9,"sparsity":0.292},{"model":"DenseNet with MSN","epoch":261,"sparsity":0.294},{"model":"DenseNet with MSN","epoch":265.5,"sparsity":0.294},{"model":"DenseNet with MSN","epoch":268.5,"sparsity":0.302},{"model":"DenseNet with MSN","epoch":271.6,"sparsity":0.309},{"model":"DenseNet with MSN","epoch":274.6,"sparsity":0.305},{"model":"DenseNet with MSN","epoch":279.2,"sparsity":0.305},{"model":"DenseNet with MSN","epoch":286.2,"sparsity":0.305},{"model":"DenseNet with MSN","epoch":288.3,"sparsity":0.297},{"model":"DenseNet with MSN","epoch":291.4,"sparsity":0.297},{"model":"DenseNet with MSN","epoch":294.4,"sparsity":0.3},{"model":"DenseNet with MSN","epoch":297.5,"sparsity":0.302},{"model":"DenseNet with MSN","epoch":300.5,"sparsity":0.309},{"model":"DenseNet with MSN","epoch":302,"sparsity":0.305},{"model":"DenseNet with MSN","epoch":305.1,"sparsity":0.309},{"model":"DenseNet with MSN","epoch":309.6,"sparsity":0.311},{"model":"DenseNet with MSN","epoch":314.2,"sparsity":0.315},{"model":"DenseNet with MSN","epoch":318.8,"sparsity":0.32},{"model":"DenseNet with MSN","epoch":323.3,"sparsity":0.322},{"model":"DenseNet with MSN","epoch":327.9,"sparsity":0.324},{"model":"DenseNet with MSN","epoch":332.5,"sparsity":0.326},{"model":"DenseNet with MSN","epoch":338.6,"sparsity":0.327},{"model":"DenseNet with MSN","epoch":344.6,"sparsity":0.326},{"model":"DenseNet with MSN","epoch":349.2,"sparsity":0.326},{"model":"DenseNet with MSN","epoch":353.8,"sparsity":0.33},{"model":"DenseNet with MSN","epoch":358.4,"sparsity":0.332},{"model":"DenseNet with MSN","epoch":362.9,"sparsity":0.334},{"model":"DenseNet with MSN","epoch":369,"sparsity":0.334},{"model":"DenseNet with MSN","epoch":375.1,"sparsity":0.335},{"model":"DenseNet with MSN","epoch":381.2,"sparsity":0.335},{"model":"DenseNet with MSN","epoch":385.7,"sparsity":0.339},{"model":"DenseNet with MSN","epoch":391.8,"sparsity":0.338},{"model":"DenseNet with MSN","epoch":394.9,"sparsity":0.336},{"model":"DenseNet with MSN","epoch":396.4,"sparsity":0.343},{"model":"DenseNet with MSN","epoch":399.4,"sparsity":0.346}
]
},
"hconcat": [
 {
  "width": 481, "height": 309.4,
  "title": "Layer 44",
  "data": {"name": "l44"},
  "mark": {"type": "line", "strokeWidth": 2.1},
  "encoding": {
   "x": {"field": "epoch", "type": "quantitative", "title": "Training Epoch", "scale": {"domain": [-20, 419], "nice": false, "zero": false}, "axis": {"values": [0, 50, 100, 150, 200, 250, 300, 350, 400]}},
   "y": {"field": "sparsity", "type": "quantitative", "title": "Sparsity", "scale": {"domain": [-0.022, 0.4605], "nice": false, "zero": false}, "axis": {"values": [0, 0.1, 0.2, 0.3, 0.4], "format": ".1f"}},
   "color": {"field": "model", "type": "nominal", "scale": {"domain": ["DenseNet with BN", "DenseNet with SN", "DenseNet with MSN"], "range": ["#1f77b4", "#ff7f0e", "#2ca02c"]}}
  }
 },
 {
  "width": 475.6, "height": 309.4,
  "title": "Layer 56",
  "data": {"name": "l56"},
  "mark": {"type": "line", "strokeWidth": 2.1},
  "encoding": {
   "x": {"field": "epoch", "type": "quantitative", "title": "Training Epoch", "scale": {"domain": [-20, 414.3], "nice": false, "zero": false}, "axis": {"values": [0, 50, 100, 150, 200, 250, 300, 350, 400]}},
   "y": {"field": "sparsity", "type": "quantitative", "title": "Sparsity", "scale": {"domain": [-0.0175, 0.388], "nice": false, "zero": false}, "axis": {"values": [0, 0.05, 0.1, 0.15, 0.2, 0.25, 0.3, 0.35], "format": ".2f"}},
   "color": {"field": "model", "type": "nominal", "scale": {"domain": ["DenseNet with BN", "DenseNet with SN", "DenseNet with MSN"], "range": ["#1f77b4", "#ff7f0e", "#2ca02c"]}}
  }
 }
]
}
